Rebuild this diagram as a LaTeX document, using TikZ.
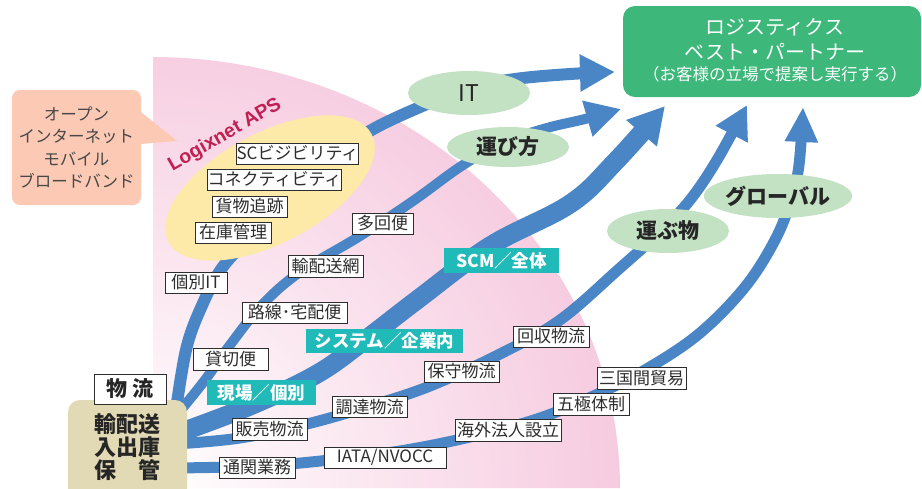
\documentclass[tikz,border=0pt]{standalone}
\usepackage{fontspec}
\newfontfamily\jp{Noto Sans CJK JP}
\newfontfamily\lat{Liberation Sans}
\usetikzlibrary{arrows.meta,shapes.geometric}
\definecolor{pinkc}{RGB}{243,184,212}
\definecolor{bluec}{RGB}{74,134,198}
\definecolor{tealc}{RGB}{32,186,185}
\definecolor{greenbox}{RGB}{61,184,122}
\definecolor{lgreen}{RGB}{195,225,195}
\definecolor{yellowc}{RGB}{253,233,168}
\definecolor{salmonc}{RGB}{251,201,180}
\definecolor{beigec}{RGB}{226,217,181}
\definecolor{crimsonc}{RGB}{192,32,82}
\definecolor{txt}{RGB}{45,45,45}
\begin{document}
\begin{tikzpicture}[x=1pt,y=-1pt,
  lbl/.style={draw=txt, line width=0.9pt, fill=white, inner sep=0pt, text=txt,
    font=\jp\fontsize{17}{17}\selectfont, minimum height=21pt},
  tlbl/.style={fill=tealc, inner sep=0pt, text=white,
    font=\jp\bfseries\fontsize{17.5}{17.5}\selectfont, minimum height=25pt},
  oval/.style={ellipse, fill=lgreen, inner sep=0pt, text=black!85,
    font=\jp\bfseries\fontsize{21}{21}\selectfont},
  flow/.style={draw=bluec, line cap=butt, line join=round},
  headA/.style={-{Triangle[length=35pt,width=35pt]}},
]
\useasboundingbox (0,0) rectangle (922,488);

% pink fan background
\begin{scope}
  \clip (153,488) -- plot[domain=-90:0,samples=90] ({153+467*cos(\x)},{488+431*sin(\x)}) -- cycle;
  \shade[inner color=white, outer color=pinkc] (153,488) circle[radius=640];
\end{scope}

% start / end coordinates of the flows
\coordinate (sA) at (176,410);
\coordinate (sB) at (176,416);
\coordinate (sC) at (176,434);
\coordinate (sD) at (176,444);
\coordinate (sE) at (176,468);
\coordinate (tA) at (615,72);
\coordinate (tB) at (621,109);
\coordinate (tC) at (665,106);
\coordinate (tD) at (747,105);
\coordinate (tE) at (803,107);

% flows
\draw[flow, line width=12pt, headA] plot[smooth, tension=0.6] coordinates
  {(sA) (186,350) (200,310) (222,268) (255,232) (305,178) (363,135) (420,107) (470,88) (515,79) (570,74) (tA)};
\draw[flow, line width=10pt, headA] plot[smooth, tension=0.6] coordinates
  {(sB) (205,380) (230,345) (262,305) (300,272) (360,236) (413,201) (463,165) (505,142) (547,128) (585,119) (tB)};
\draw[flow, line width=19pt, -{Triangle[length=36pt,width=38pt]}] plot[smooth, tension=0.6] coordinates
  {(sC) (250,406) (317,374) (365,340) (417,300) (490,246) (570,204) (615,162) (tC)};
\draw[flow, line width=11pt, -{Triangle[length=33pt,width=34pt]}] plot[smooth, tension=0.6] coordinates
  {(sD) (240,438) (307,424) (370,406) (430,386) (500,354) (560,320) (620,268) (660,232) (690,200) (717,160) (tD)};
\draw[flow, line width=11pt, -{Triangle[length=35pt,width=31pt]}] plot[smooth, tension=0.6] coordinates
  {(sE) (260,466) (330,460) (400,451) (470,437) (540,418) (600,393) (650,367) (700,333) (745,287) (775,240) (791,200) (799,165) (tE)};

% Logixnet APS area
\node[ellipse, rotate=28, fill=yellowc, inner sep=0pt, minimum width=230pt, minimum height=110pt] (aps) at (270,188) {};
\node[rotate=30, text=crimsonc, font=\lat\bfseries\fontsize{19.5}{19.5}\selectfont] (apsname) at (225,135) {Logixnet APS};

% callout
\node[fill=salmonc, rounded corners=8pt, minimum width=129pt, minimum height=115pt, inner sep=0pt,
  align=center, text=black!72, font=\jp\fontsize{16.5}{22.6}\selectfont] (call) at (76.5,147.5)
  {オープン\\インターネット\\モバイル\\ブロードバンド};
\fill[salmonc] (141,112) -- (177,141) -- (141,144) -- cycle;

% labels
\node[lbl, minimum width=105pt] (l1) at (297.5,153.5) {SCビジビリティ};
\node[lbl, minimum width=105pt] (l2) at (274.5,179.5) {コネクティビティ};
\node[lbl, minimum width=75pt] (l3) at (249.5,206.5) {貨物追跡};
\node[lbl, minimum width=76pt] (l4) at (233,232.5) {在庫管理};
\node[lbl, minimum width=61pt] (l5) at (382.5,223.5) {多回便};
\node[lbl, minimum width=75pt, minimum height=22pt] (l6) at (325.5,266) {輸配送網};
\node[lbl, minimum width=62pt] (l7) at (196,282.5) {個別IT};
\node[lbl, minimum width=105pt] (l8) at (294.5,312.5) {路線･宅配便};
\node[lbl, minimum width=75pt, minimum height=22pt] (l9) at (230.5,359) {貸切便};
\node[lbl, minimum width=75pt, minimum height=22pt] (l10) at (269.5,429) {販売物流};
\node[lbl, minimum width=75pt] (l11) at (369.5,407) {調達物流};
\node[lbl, minimum width=75pt] (l12) at (461.5,371.5) {保守物流};
\node[lbl, minimum width=76pt] (l13) at (551,336.5) {回収物流};
\node[lbl, minimum width=76pt] (l14) at (257,467.5) {通関業務};
\node[lbl, minimum width=122pt] (l15) at (385,457.5) {IATA/NVOCC};
\node[lbl, minimum width=106pt, minimum height=22pt] (l16) at (508,430) {海外法人設立};
\node[lbl, minimum width=76pt, minimum height=22pt] (l17) at (591,404) {五極体制};
\node[lbl, minimum width=89pt, minimum height=22pt] (l18) at (641.5,378) {三国間貿易};

% teal stage labels
\node[tlbl, minimum width=109pt] (t1) at (261.5,392.5) {現場／個別};
\node[tlbl, minimum width=157pt, minimum height=24pt] (t2) at (384.5,341) {システム／企業内};
\node[tlbl, minimum width=115pt] (t3) at (501.5,260.5) {SCM／全体};

% green ovals
\node[oval, minimum width=122pt, minimum height=44pt, font=\jp\fontsize{23}{23}\selectfont] (it) at (469,93) {IT};
\node[oval, minimum width=122pt, minimum height=40pt] (hk) at (508,147) {運び方};
\node[oval, minimum width=122pt, minimum height=44pt] (hm) at (668,231) {運ぶ物};
\node[oval, minimum width=124pt, minimum height=44pt] (gl) at (778,196) {グローバル};

% goal box
\node[fill=greenbox, rounded corners=12pt, minimum width=298pt, minimum height=91pt, inner sep=0pt] (goal) at (772,51.5) {};
\node[text=white, font=\jp\fontsize{20}{20}\selectfont] (g1) at (775,27) {ロジスティクス};
\node[text=white, font=\jp\fontsize{20}{20}\selectfont] (g2) at (775,52) {ベスト・パートナー};
\node[text=white, font=\jp\fontsize{16.5}{16.5}\selectfont] (g3) at (775,74) {（お客様の立場で提案し実行する）};

% source box
\node[fill=beigec, rounded corners=12pt, minimum width=119pt, minimum height=110pt, inner sep=0pt] (src) at (127.5,455) {};
\node[align=center, text=black!85, font=\jp\bfseries\fontsize{22}{23}\selectfont] (srctext) at (127,447) {輸配送\\入出庫\\保　管};
\node[lbl, minimum width=72pt, minimum height=30pt, text=black!85, font=\jp\bfseries\fontsize{21}{21}\selectfont] (butsuryu) at (130,389) {物\hspace{5pt}流};
\end{tikzpicture}
\end{document}
